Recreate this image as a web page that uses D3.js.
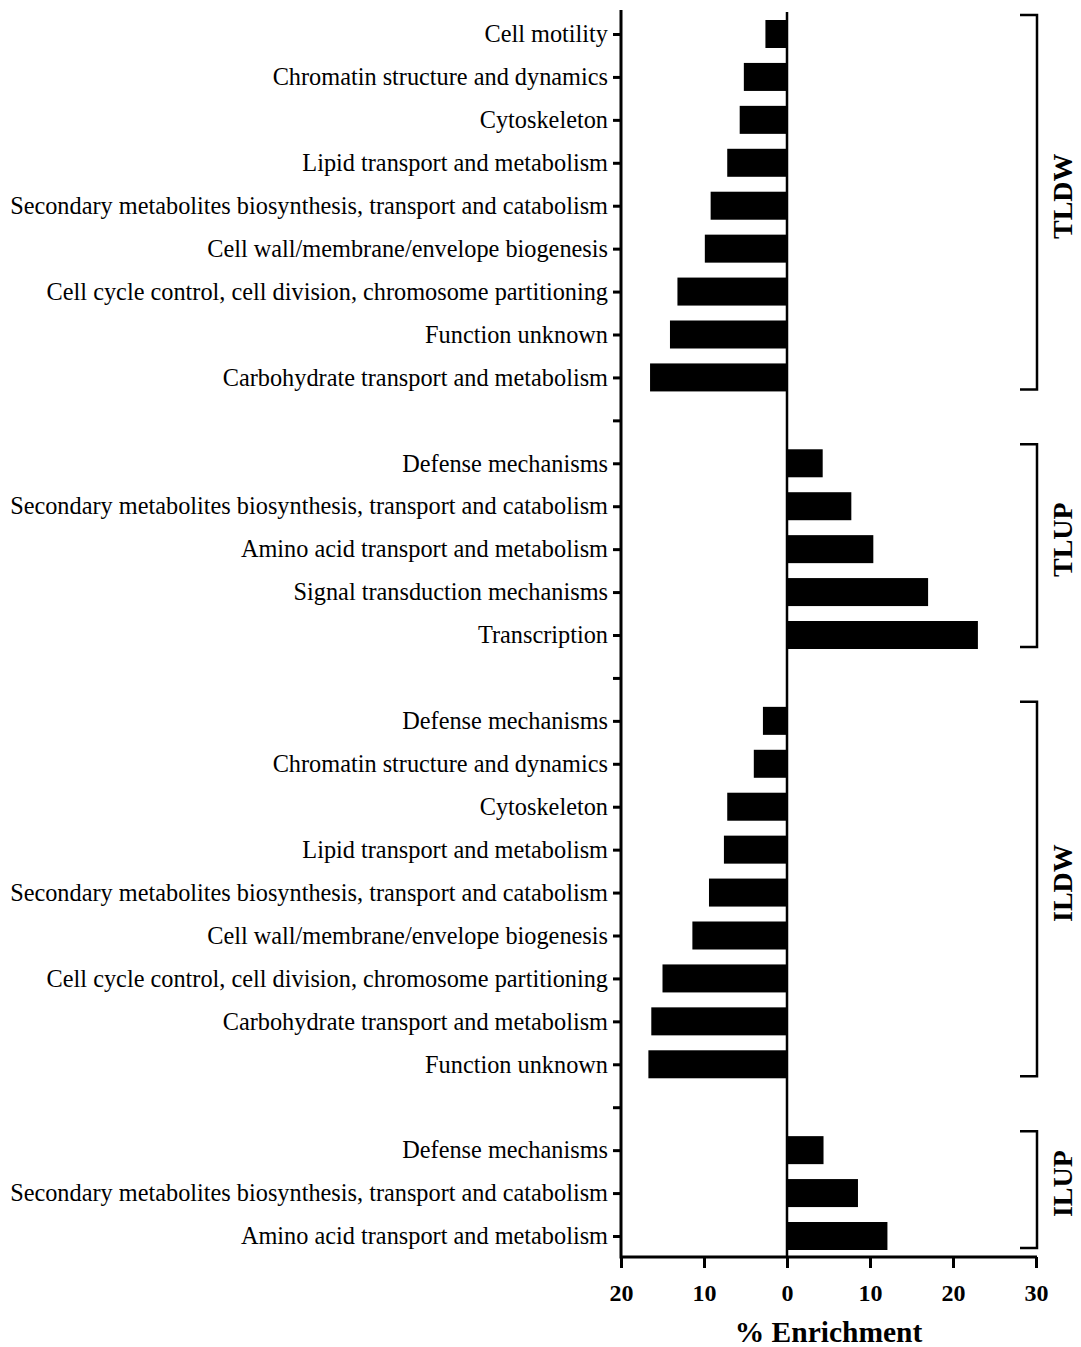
<!DOCTYPE html>
<html>
<head>
<meta charset="utf-8">
<script src="https://cdn.jsdelivr.net/npm/d3@7"></script>
<style>
  body { margin: 0; background: #fff; }
  svg { display: block; }
  text { font-family: "Liberation Serif", "Times New Roman", serif; }
</style>
</head>
<body>
<svg id="chart" width="1081" height="1347"></svg>
<script>
// groups, top to bottom
const groups = ["TLDW", "TLUP", "ILDW", "ILUP"];

const tldwCats = [
  "Cell motility",
  "Chromatin structure and dynamics",
  "Cytoskeleton",
  "Lipid transport and metabolism",
  "Secondary metabolites biosynthesis, transport and catabolism",
  "Cell wall/membrane/envelope biogenesis",
  "Cell cycle control, cell division, chromosome partitioning",
  "Function unknown",
  "Carbohydrate transport and metabolism"
];
const tldwValues = [-2.6, -5.2, -5.7, -7.2, -9.2, -9.9, -13.2, -14.1, -16.5];

const tlupCats = [
  "Defense mechanisms",
  "Secondary metabolites biosynthesis, transport and catabolism",
  "Amino acid transport and metabolism",
  "Signal transduction mechanisms",
  "Transcription"
];
const tlupValues = [4.3, 7.75, 10.4, 17.0, 23.0];

const ildwCats = [
  "Defense mechanisms",
  "Chromatin structure and dynamics",
  "Cytoskeleton",
  "Lipid transport and metabolism",
  "Secondary metabolites biosynthesis, transport and catabolism",
  "Cell wall/membrane/envelope biogenesis",
  "Cell cycle control, cell division, chromosome partitioning",
  "Carbohydrate transport and metabolism",
  "Function unknown"
];
const ildwValues = [-2.9, -4.0, -7.2, -7.6, -9.4, -11.4, -15.0, -16.35, -16.7];

const ilupCats = [
  "Defense mechanisms",
  "Secondary metabolites biosynthesis, transport and catabolism",
  "Amino acid transport and metabolism"
];
const ilupValues = [4.4, 8.55, 12.1];

const xTicks = [-20, -10, 0, 10, 20, 30];

const groupCats = [tldwCats, tlupCats, ildwCats, ilupCats];
const groupValues = [tldwValues, tlupValues, ildwValues, ilupValues];

// build row slots, with one empty slot between groups
var slots = [];
groups.forEach((g, gi) => {
  if (gi > 0) slots.push({ key: "gap" + gi, label: "", value: null, group: null });
  groupCats[gi].forEach((c, ci) => {
    slots.push({ key: g + "-" + ci, label: c, value: groupValues[gi][ci], group: g });
  });
});

const svg = d3.select("#chart");

const plotLeft = 621, plotRight = 1036, plotTop = 10, plotBottom = 1257;

const x = d3.scaleLinear().domain([-20, 30]).range([plotLeft, plotRight]);
const y = d3.scalePoint().domain(slots.map(d => d.key)).range([34, 1236]);
const barH = 28;

// y axis with ticks
const yAxis = d3.axisLeft(y)
  .tickSize(8)
  .tickSizeOuter(0)
  .tickFormat(k => slots.find(s => s.key === k).label);

const gy = svg.append("g")
  .attr("transform", `translate(${plotLeft},0)`)
  .call(yAxis);
gy.select(".domain").remove();
gy.selectAll(".tick line").attr("stroke", "#000").attr("stroke-width", 3);
gy.selectAll(".tick text")
  .attr("x", -13)
  .attr("dy", "0.32em")
  .attr("fill", "#000")
  .style("font-size", "24.3px")
  .style("font-family", "'Liberation Serif', serif");

// bars
svg.append("g")
  .selectAll("rect")
  .data(slots.filter(d => d.value !== null))
  .join("rect")
  .attr("x", d => x(Math.min(0, d.value)))
  .attr("width", d => Math.abs(x(d.value) - x(0)))
  .attr("y", d => y(d.key) - barH / 2)
  .attr("height", barH)
  .attr("fill", "#000");

// zero line
svg.append("line")
  .attr("x1", x(0)).attr("x2", x(0))
  .attr("y1", plotTop + 2).attr("y2", plotBottom)
  .attr("stroke", "#000").attr("stroke-width", 2.5);

// x axis
const xAxis = d3.axisBottom(x)
  .tickValues(xTicks)
  .tickSize(11)
  .tickSizeOuter(0)
  .tickFormat(d => Math.abs(d));

const gx = svg.append("g")
  .attr("transform", `translate(0,${plotBottom})`)
  .call(xAxis);
gx.select(".domain").remove();
gx.selectAll(".tick line").attr("stroke", "#000").attr("stroke-width", 3);
gx.selectAll(".tick text")
  .attr("y", 27)
  .attr("dy", "0.71em")
  .attr("fill", "#000")
  .style("font-size", "24px")
  .style("font-weight", "bold")
  .style("font-family", "'Liberation Serif', serif");

// axis lines
svg.append("path")
  .attr("d", `M${plotLeft},${plotTop}V${plotBottom}H${plotRight + 1}`)
  .attr("fill", "none")
  .attr("stroke", "#000")
  .attr("stroke-width", 3);

// axis title
svg.append("text")
  .attr("x", (plotLeft + plotRight) / 2)
  .attr("y", 1342)
  .attr("text-anchor", "middle")
  .style("font-size", "29.5px")
  .style("font-weight", "bold")
  .text("% Enrichment");

// group brackets
const bx = 1037, capW = 17;
groups.forEach(g => {
  const rows = slots.filter(s => s.group === g);
  const y0 = y(rows[0].key) - barH / 2 - 5;
  const y1 = y(rows[rows.length - 1].key) + barH / 2 - 2;
  svg.append("path")
    .attr("d", `M${bx - capW},${y0}H${bx}V${y1}H${bx - capW}`)
    .attr("fill", "none")
    .attr("stroke", "#000")
    .attr("stroke-width", 2.5);
  const cy = (y0 + y1) / 2 - 6;
  svg.append("text")
    .attr("transform", `translate(1072,${cy}) rotate(-90)`)
    .attr("text-anchor", "middle")
    .style("font-size", "28px")
    .style("font-weight", "bold")
    .text(g);
});
</script>
</body>
</html>
